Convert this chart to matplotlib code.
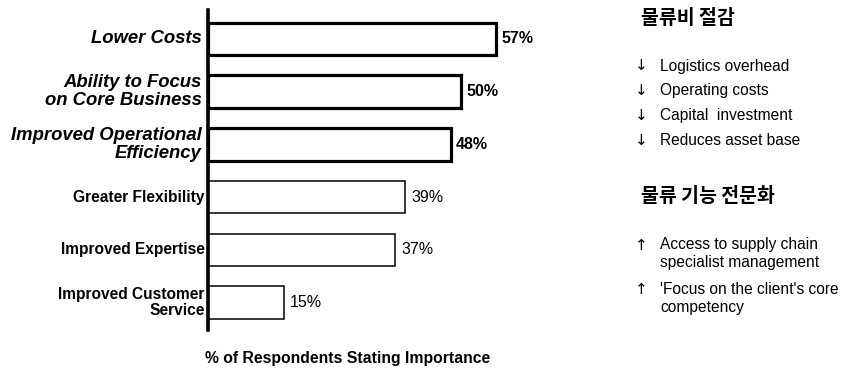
import numpy as np
import matplotlib.pyplot as plt

plt.rcParams['font.family'] = ['Liberation Sans', 'DejaVu Sans']

# data
categories = ['Lower Costs', 'Ability to Focus\non Core Business',
              'Improved Operational\nEfficiency', 'Greater Flexibility',
              'Improved Expertise', 'Improved Customer\nService']
values = [57, 50, 48, 39, 37, 15]
highlight = [True, True, True, False, False, False]

head1 = '물류비 절감'
items1 = ['Logistics overhead', 'Operating costs', 'Capital  investment', 'Reduces asset base']
head2 = '물류 기능 전문화'
items2 = [['Access to supply chain', 'specialist management'],
          ["'Focus on the client's core", 'competency']]

f = plt.figure(figsize=(8.44, 3.72), dpi=100)
ax = f.add_axes([208/844, 1-330/372, 330/844, 320/372])

y = np.arange(len(values))
for i in range(len(values)):
    lw = 2.3 if highlight[i] else 1.1
    ax.barh(y[i], values[i], height=0.62, color='white', edgecolor='black', linewidth=lw)
    if highlight[i]:
        ax.text(values[i] + 1.1, y[i], f'{values[i]}%', va='center', ha='left',
                fontsize=11.5, fontweight='bold')
    else:
        ax.text(values[i] + 1.2, y[i], f'{values[i]}%', va='center', ha='left',
                fontsize=11.5)

ax.set_xlim(0, 65.3)
ax.set_ylim(5.52, -0.55)
ax.set_yticks(y)
ax.set_yticklabels([])
ax.tick_params(left=False, bottom=False, labelbottom=False)
for i in range(len(categories)):
    if highlight[i]:
        ax.text(-1.3, y[i], categories[i], ha='right', va='center', fontsize=13.3,
                fontweight='bold', fontstyle='italic', linespacing=1.05)
    else:
        ax.text(-0.7, y[i], categories[i], ha='right', va='center', fontsize=11.2,
                fontweight='bold', linespacing=1.15)
for s in ['top', 'right', 'bottom']:
    ax.spines[s].set_visible(False)
ax.spines['left'].set_linewidth(2.6)

f.text(348/844, 1-359/372, '% of Respondents Stating Importance', ha='center', va='center',
       fontsize=11.3, fontweight='bold')

kr = ['Noto Sans CJK KR', 'DejaVu Sans']
f.text(641/844, 1-18/372, head1, family=kr, fontweight='bold', fontsize=14, va='center')
for k, t in enumerate(items1):
    yy = 1 - (66 + k*24.7)/372
    f.text(635/844, yy, '↓', family=['DejaVu Sans'], fontsize=11, va='center')
    f.text(660/844, yy, t, fontsize=11.2, va='center')
f.text(641/844, 1-196/372, head2, family=kr, fontweight='bold', fontsize=14, va='center')
for k, lines in enumerate(items2):
    y0 = 245 + k*45
    f.text(635/844, 1 - y0/372, '↑', family=['DejaVu Sans'], fontsize=11, va='center')
    for j, t in enumerate(lines):
        f.text(660/844, 1 - (y0 + j*17.5)/372, t, fontsize=11.2, va='center')

f.savefig('out.png', dpi=100)
